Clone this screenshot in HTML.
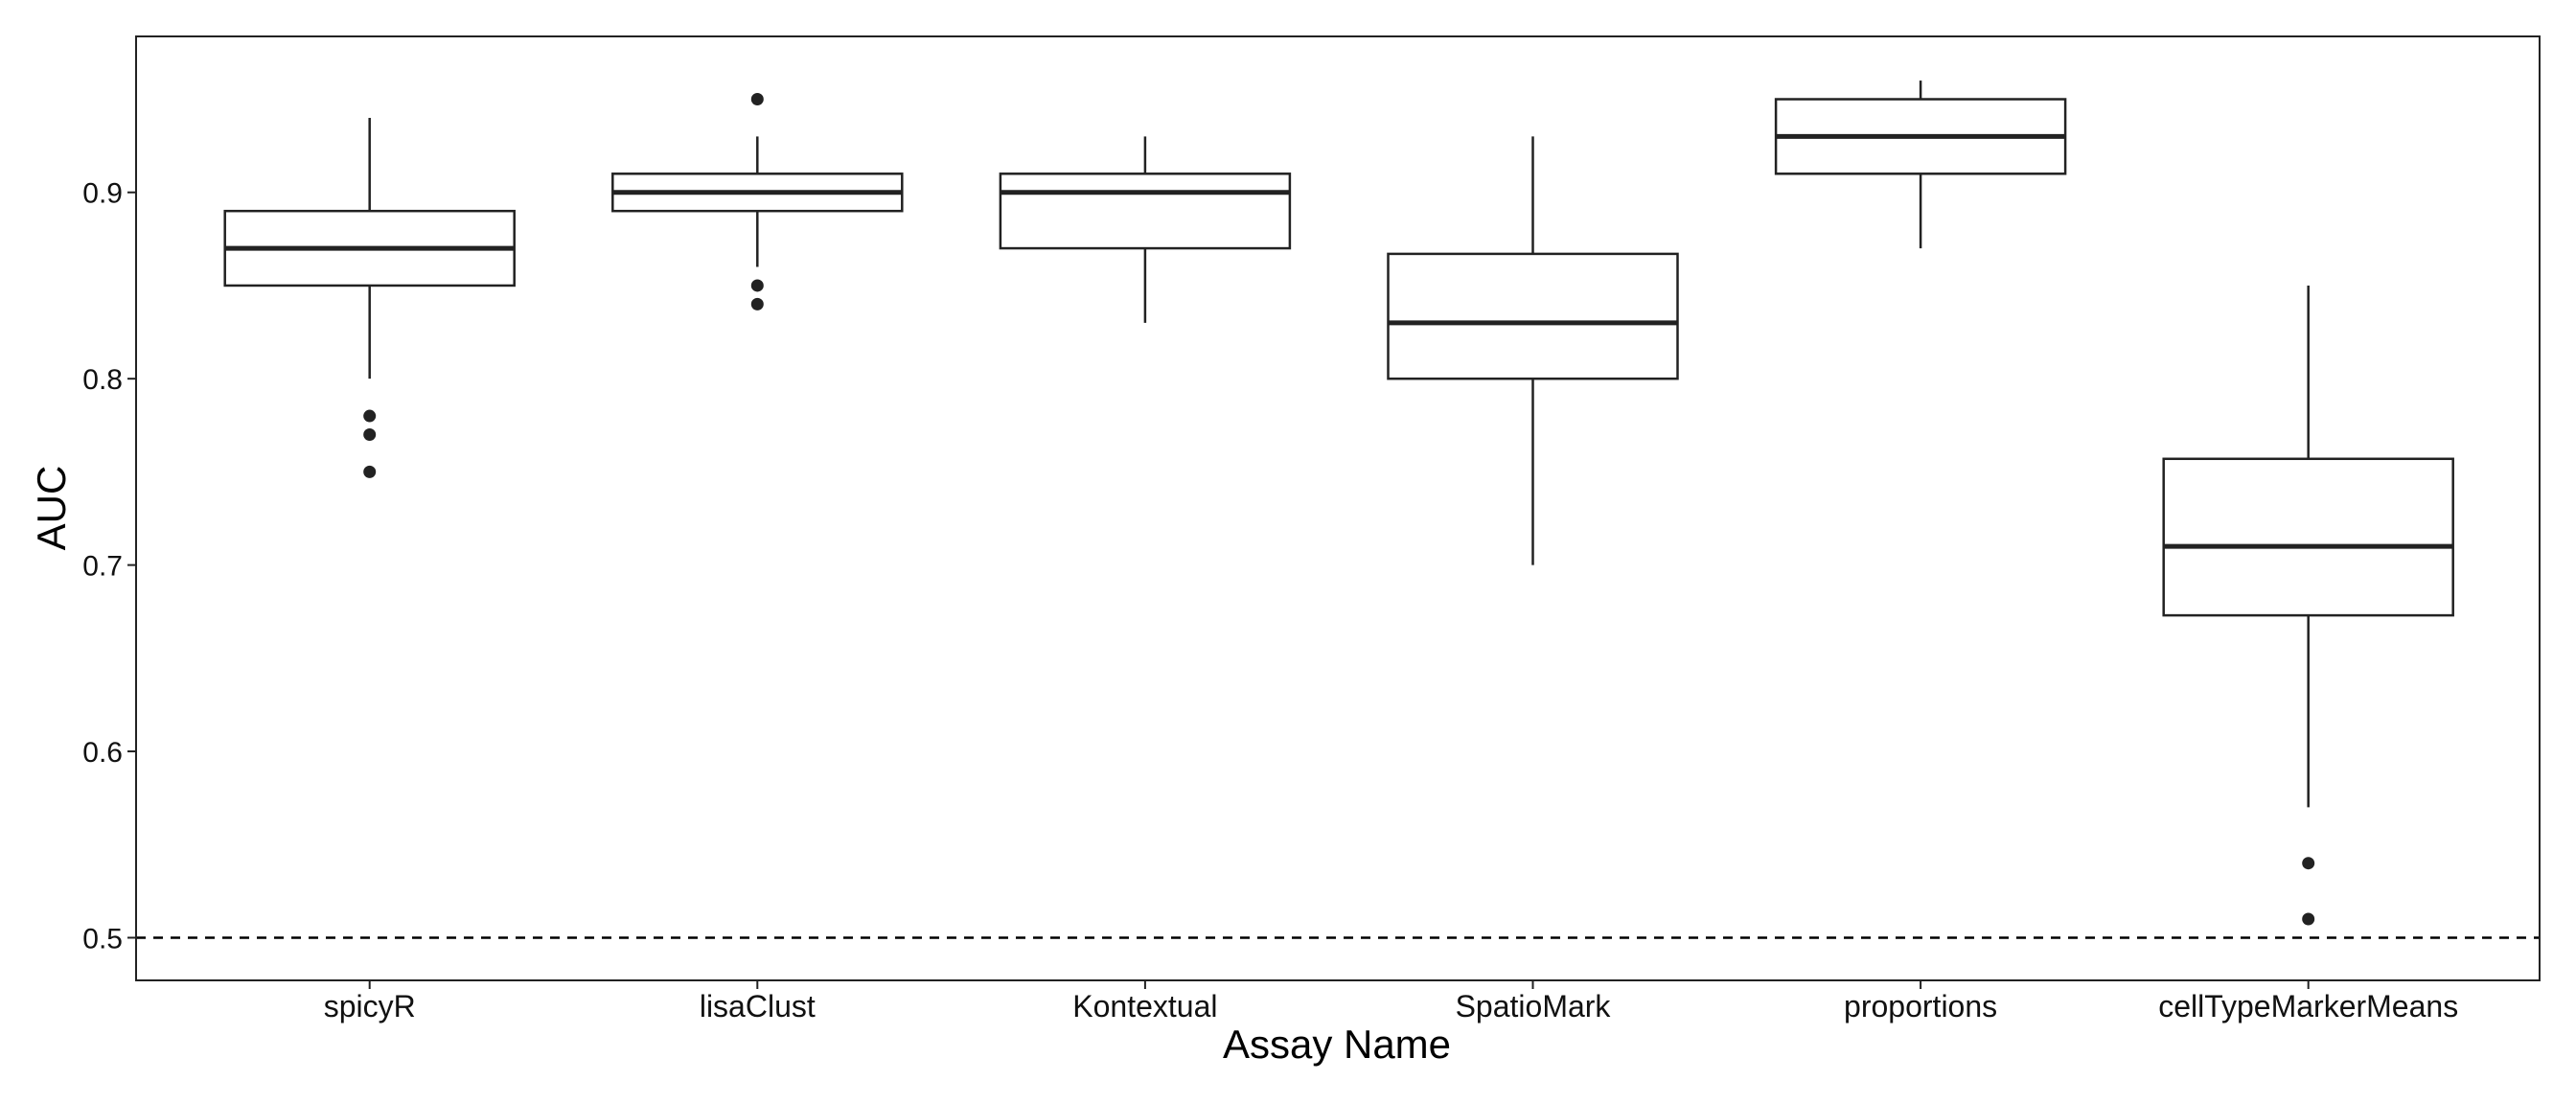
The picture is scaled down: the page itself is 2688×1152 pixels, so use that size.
<!DOCTYPE html>
<html><head><meta charset="utf-8"><style>
html,body{margin:0;padding:0;background:#fff;}
svg{display:block;font-family:"Liberation Sans",Arial,sans-serif;}
</style></head><body>
<svg id="chart" width="2688" height="1152" viewBox="0 0 2688 1152">
<rect x="0" y="0" width="2688" height="1152" fill="#fff"/>
<g id="marks"></g>
<rect x="142" y="38" width="2508" height="985" fill="none" stroke="#222" stroke-width="2"/>
<text x="1395" y="1104" text-anchor="middle" font-size="42" fill="#000">Assay Name</text>
<text transform="translate(68,530) rotate(-90)" text-anchor="middle" font-size="42" fill="#000">AUC</text>
</svg>
<script>
const categories = ["spicyR","lisaClust","Kontextual","SpatioMark","proportions","cellTypeMarkerMeans"];
const lowerWhisker = [0.80,0.86,0.83,0.70,0.87,0.57];
const q1 = [0.85,0.89,0.87,0.80,0.91,0.673];
const medians = [0.87,0.90,0.90,0.83,0.93,0.71];
const q3 = [0.89,0.91,0.91,0.867,0.95,0.757];
const upperWhisker = [0.94,0.93,0.93,0.93,0.96,0.85];
const outliers = [[0.78,0.77,0.75],[0.95,0.85,0.84],[],[],[],[0.54,0.51]];
const yTicks = [0.5,0.6,0.7,0.8,0.9];
const yTickLabels = ["0.5","0.6","0.7","0.8","0.9"];
const refLine = 0.5;

const NS = "http://www.w3.org/2000/svg";
const pLeft=142,pRight=2650,pTop=38,pBottom=1023;
const yMin=0.4771,yMax=0.9837;
function yScale(v){return pBottom-(v-yMin)/(yMax-yMin)*(pBottom-pTop);}
const step=404.6, x0=385.7;
function xScale(i){return x0+i*step;}
const halfW=151;
const marksG=document.getElementById('marks');
function mk(tag,attrs,parent){const e=document.createElementNS(NS,tag);for(const k in attrs)e.setAttribute(k,attrs[k]);(parent||marksG).appendChild(e);return e;}

let rl=mk('line',{x1:pLeft,x2:pRight,y1:yScale(refLine),y2:yScale(refLine),stroke:'#000','stroke-width':2.5,'stroke-dasharray':'10,8'});



categories.forEach((c,i)=>{
  const cx=xScale(i);
  const grp=mk('g',{});
  
  
  let w1=mk('line',{x1:cx,x2:cx,y1:yScale(upperWhisker[i]),y2:yScale(q3[i]),stroke:'#222','stroke-width':2.5},grp);
  
  
  let w2=mk('line',{x1:cx,x2:cx,y1:yScale(q1[i]),y2:yScale(lowerWhisker[i]),stroke:'#222','stroke-width':2.5},grp);
  
  
  let b=mk('rect',{x:cx-halfW,y:yScale(q3[i]),width:2*halfW,height:yScale(q1[i])-yScale(q3[i]),fill:'#fff',stroke:'#222','stroke-width':2.5},grp);
  
  
  let m=mk('line',{x1:cx-halfW,x2:cx+halfW,y1:yScale(medians[i]),y2:yScale(medians[i]),stroke:'#222','stroke-width':5},grp);
  
  
  outliers[i].forEach(v=>{
    let o=mk('circle',{cx:cx,cy:yScale(v),r:6.5,fill:'#222'},grp);
    
    
  });
  let tk=mk('line',{x1:cx,x2:cx,y1:pBottom,y2:pBottom+9,stroke:'#222','stroke-width':2});
  
  
  let t=mk('text',{x:cx,y:1061,'text-anchor':'middle','font-size':32,fill:'#111'});
  t.textContent=c;
  
  
});
yTicks.forEach((v,i)=>{
  let tk=mk('line',{x1:pLeft-9,x2:pLeft,y1:yScale(v),y2:yScale(v),stroke:'#222','stroke-width':2});
  
  
  let t=mk('text',{x:pLeft-14,y:yScale(v)+11,'text-anchor':'end','font-size':30,fill:'#111'});
  t.textContent=yTickLabels[i];
  
  
});
</script>
</body></html>
